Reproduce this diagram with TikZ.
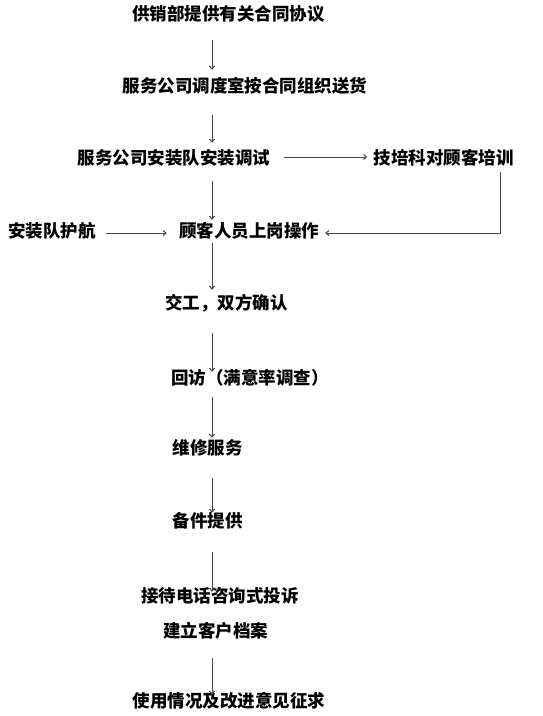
\documentclass[tikz,border=0pt]{standalone}
\usepackage{fontspec}
\newfontfamily\cjk{Noto Sans CJK SC}
\usetikzlibrary{arrows.meta}
\tikzset{
  txt/.style={inner sep=0pt, text height=16pt, text depth=2pt, font=\cjk\bfseries\fontsize{17.5}{18}\selectfont},
  arr/.style={draw=black!72, line width=1pt, -{Straight Barb[length=3pt,width=5pt]}}
}
\begin{document}
\begin{tikzpicture}[x=1pt,y=-1pt]
\useasboundingbox (0,0) rectangle (542,716);
\coordinate (col) at (212,0);
\coordinate (rcol) at (500,0);
\node[txt] (ht) at (228.5,13) {供销部提供有关合同协议};
\node[txt] (dd) at (245,85) {服务公司调度室按合同组织送货};
\node[txt] (az) at (174,157) {服务公司安装队安装调试};
\node[txt] (px) at (443.5,157) {技培科对顾客培训};
\node[txt] (hh) at (52,230) {安装队护航};
\node[txt] (sg) at (249,230) {顾客人员上岗操作};
\node[txt] (jg) at (226.5,302) {交工，双方确认};
\node[txt] (hf) at (250,377) {回访（满意率调查）};
\node[txt] (wx) at (207.5,447) {维修服务};
\node[txt] (bj) at (207.5,520) {备件提供};
\node[txt] (dh) at (220,595) {接待电话咨询式投诉};
\node[txt] (da) at (215.5,630) {建立客户档案};
\node[txt] (zq) at (229,700) {使用情况及改进意见征求};
% main column
\draw[arr, shorten <=18pt, shorten >=6pt] (ht.south -| col) -- (dd.north -| col);
\draw[arr, shorten <=21pt, shorten >=5pt] (dd.south -| col) -- (az.north -| col);
\draw[arr, shorten <=15pt, shorten >=1pt] (az.south -| col) -- (sg.north -| col);
\draw[arr, shorten <=4pt, shorten >=3pt] (sg.south -| col) -- (jg.north -| col);
\draw[arr, shorten <=22pt, shorten >=-4pt] (jg.south -| col) -- (hf.north -| col);
\draw[arr, shorten <=11pt, shorten >=0pt] (hf.south -| col) -- (wx.north -| col);
\draw[arr, shorten <=22pt, shorten >=-2pt] (wx.south -| col) -- (bj.north -| col);
\draw[arr, shorten <=23pt, shorten >=-6pt] (bj.south -| col) -- (dh.north -| col);
\draw[arr, shorten <=19pt, shorten >=-4pt] (da.south -| col) -- (zq.north -| col);
% side branches
\draw[arr, shorten <=14pt, shorten >=6pt] (az.east) -- (px.west);
\draw[arr, shorten <=10pt, shorten >=12pt] ([yshift=-3pt]hh.east) -- ([yshift=-3pt]sg.west);
\draw[arr, shorten >=6pt] ([yshift=-6pt]px.south -| rcol) |- ([yshift=-3pt]sg.east);
\end{tikzpicture}
\end{document}
